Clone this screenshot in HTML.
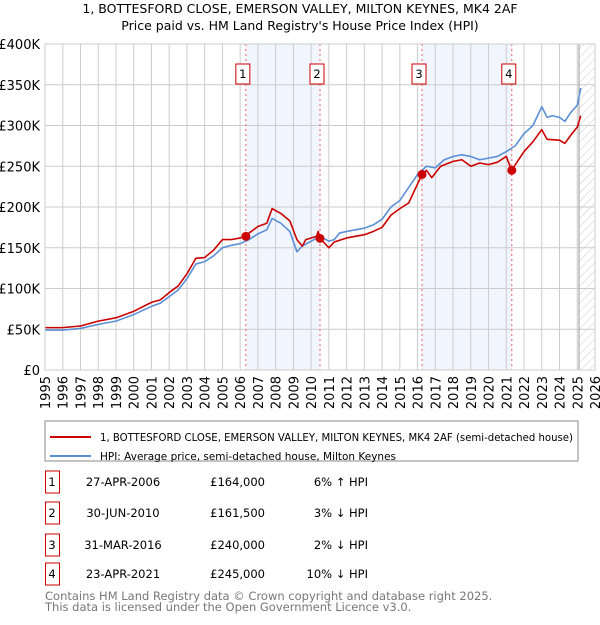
<!DOCTYPE html>
<html><head><meta charset="utf-8"><style>
body{margin:0;background:#fff;font-family:"Liberation Sans","DejaVu Sans",sans-serif;}
svg text{font-family:"DejaVu Sans","Liberation Sans",sans-serif;}
</style></head><body>
<svg id="c" width="600" height="620" viewBox="0 0 600 620">
<defs><pattern id="hatch" width="6" height="6" patternUnits="userSpaceOnUse" patternTransform="rotate(45)"><line x1="0" y1="0" x2="0" y2="6" stroke="#ccc" stroke-width="1"/></pattern></defs>
<text x="300" y="13" text-anchor="middle" font-size="12.5">1, BOTTESFORD CLOSE, EMERSON VALLEY, MILTON KEYNES, MK4 2AF</text>
<text x="300" y="30" text-anchor="middle" font-size="12.5">Price paid vs. HM Land Registry's House Price Index (HPI)</text>
<g id="plot"></g>
<g>
<rect x="45" y="421" width="533" height="40" fill="#fff" stroke="#888"/>
<line x1="50" y1="437" x2="91" y2="437" stroke="#cc0000" stroke-width="2"/>
<text x="100" y="441" font-size="11" textLength="473" lengthAdjust="spacingAndGlyphs">1, BOTTESFORD CLOSE, EMERSON VALLEY, MILTON KEYNES, MK4 2AF (semi-detached house)</text>
<line x1="50" y1="456" x2="91" y2="456" stroke="#5b8fd6" stroke-width="2"/>
<text x="100" y="460" font-size="11" textLength="296" lengthAdjust="spacingAndGlyphs">HPI: Average price, semi-detached house, Milton Keynes</text>
</g>
<g id="table" font-size="11.5"></g>
<text x="45" y="600" font-size="11.5" fill="#777">Contains HM Land Registry data © Crown copyright and database right 2025.</text>
<text x="45" y="611" font-size="11.5" fill="#777">This data is licensed under the Open Government Licence v3.0.</text>
</svg>
<script>
const yTicks=[0,50000,100000,150000,200000,250000,300000,350000,400000];
const yTickLabels=["£0","£50K","£100K","£150K","£200K","£250K","£300K","£350K","£400K"];
const xYears=[1995,1996,1997,1998,1999,2000,2001,2002,2003,2004,2005,2006,2007,2008,2009,2010,2011,2012,2013,2014,2015,2016,2017,2018,2019,2020,2021,2022,2023,2024,2025,2026];
const hpiT=[1995,1996,1997,1998,1999,2000,2001,2001.5,2002,2002.5,2003,2003.5,2004,2004.5,2005,2005.5,2006,2006.5,2007,2007.5,2007.8,2008.3,2008.8,2009.2,2009.5,2010,2010.5,2011,2011.3,2011.6,2012,2013,2013.5,2014,2014.5,2015,2015.5,2016,2016.5,2017,2017.5,2018,2018.5,2019,2019.5,2020,2020.5,2021,2021.5,2022,2022.5,2023,2023.3,2023.6,2024,2024.3,2024.6,2025,2025.2];
const hpiV=[49,49,51,56,60,68,78,82,90,98,112,130,133,140,150,153,155,160,167,172,186,180,170,145,152,158,164,158,160,168,170,174,178,185,200,208,224,240,250,248,258,262,264,262,258,260,262,268,275,290,300,323,310,312,310,305,315,325,346];
const priceT=[1995,1996,1997,1998,1999,2000,2001,2001.5,2002,2002.5,2003,2003.5,2004,2004.5,2005,2005.5,2006,2006.3,2006.5,2007,2007.5,2007.8,2008.3,2008.8,2009.2,2009.5,2009.7,2010.3,2010.4,2010.5,2011,2011.3,2012,2013,2013.5,2014,2014.5,2015,2015.5,2016.25,2016.5,2016.8,2017.3,2018,2018.5,2019,2019.5,2020,2020.5,2021,2021.3,2021.6,2022,2022.5,2023,2023.3,2024,2024.3,2024.7,2025,2025.2];
const priceV=[52,52,54,60,64,72,83,86,95,103,118,137,138,147,160,160,162,164,168,176,180,198,192,183,160,152,160,164,170,161.5,150,157,162,166,170,175,190,198,205,240,245,236,250,256,258,250,254,252,255,262,245,255,268,280,295,283,282,278,290,298,312];
const saleT=[2006.32,2010.5,2016.25,2021.31];
const saleV=[164,161.5,240,245];
const saleLabels=["1","2","3","4"];
const saleDates=["27-APR-2006","30-JUN-2010","31-MAR-2016","23-APR-2021"];
const salePrices=["£164,000","£161,500","£240,000","£245,000"];
const saleHpi=["6% ↑ HPI","3% ↓ HPI","2% ↓ HPI","10% ↓ HPI"];

const L=45,R=595,T=44,B=370;
const x=t=>L+(t-1995)*(R-L)/31;
const y=v=>B-v*(B-T)/400000;
const NS="http://www.w3.org/2000/svg";
const plot=document.getElementById('plot');
function mk(tag,attrs,parent){const e=document.createElementNS(NS,tag);for(const k in attrs)e.setAttribute(k,attrs[k]);(parent||plot).appendChild(e);return e;}
for(let i=0;i<saleT.length;i+=2){const b=mk('rect',{x:x(saleT[i]),y:T,width:x(saleT[i+1])-x(saleT[i]),height:B-T,fill:'#eef3fc',opacity:0.8});

}
const h=mk('rect',{x:x(2025.1),y:T,width:R-x(2025.1),height:B-T,fill:'url(#hatch)'});


yTicks.forEach((v,i)=>{const g=mk('line',{x1:L,x2:R,y1:y(v),y2:y(v),stroke:'#ccc'});


const t=mk('text',{x:L-5,y:y(v)+5,'text-anchor':'end','font-size':13});t.textContent=yTickLabels[i];

});
xYears.forEach(yr=>{const g=mk('line',{x1:x(yr),x2:x(yr),y1:T,y2:B,stroke:'#ccc'});


const t=mk('text',{x:0,y:0,'font-size':13,'text-anchor':'end',transform:`translate(${x(yr)+5},${B+6}) rotate(-90)`});t.textContent=yr;

});
mk('line',{x1:x(2025.1),x2:x(2025.1),y1:T,y2:B,stroke:'#999'});
saleT.forEach((t,i)=>{const l=mk('line',{x1:x(t),x2:x(t),y1:T,y2:B,stroke:'#f06060','stroke-dasharray':'2,3'});


const bx=mk('rect',{x:x(t)-10,y:64,width:14,height:20,fill:'#fff',stroke:'#cc0000'});


const tx=mk('text',{x:x(t)-3,y:78,'text-anchor':'middle','font-size':11.5});tx.textContent=saleLabels[i];

});
function line(ts,vs,col,name){const p=mk('polyline',{points:ts.map((t,i)=>x(t)+','+y(vs[i]*1000)).join(' '),fill:'none',stroke:col,'stroke-width':1.6,'stroke-linejoin':'round'});

}
line(hpiT,hpiV,'#5b8fd6','hpi-line');
line(priceT,priceV,'#cc0000','price-line');
saleT.forEach((t,i)=>{const c=mk('circle',{cx:x(t),cy:y(saleV[i]*1000),r:4.5,fill:'#cc0000'});

});
mk('rect',{x:L,y:T,width:R-L,height:B-T,fill:'none',stroke:'#ccc'});
const tb=document.getElementById('table');
const rows=[482,513,545,574];
saleT.forEach((t,i)=>{const ry=rows[i];
const b=mk('rect',{x:45.5,y:ry-11,width:14,height:22,fill:'#fff',stroke:'#cc0000'},tb);


const cells=[[52,'middle',saleLabels[i],'table-sale-number'],[123,'middle',saleDates[i],'table-sale-date'],[265,'end',salePrices[i],'table-sale-price'],[368,'end',saleHpi[i],'table-sale-hpi']];
cells.forEach(c=>{const e=mk('text',{x:c[0],y:ry+4,'text-anchor':c[1]},tb);e.textContent=c[2];

});});
</script>
</body></html>
